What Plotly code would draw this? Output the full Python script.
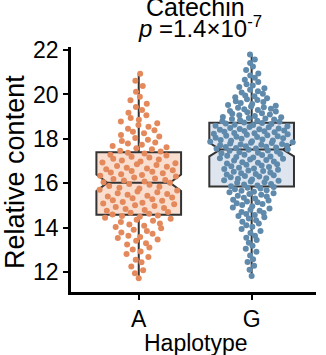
import numpy as np
import plotly.graph_objects as go

categories = ["A", "G"]
y_ticks = [12, 14, 16, 18, 20, 22]

values_A = [
    11.72, 11.95,
    12.08, 12.25, 12.44,
    12.55, 12.68, 12.81, 12.93,
    13.02, 13.11, 13.24, 13.30, 13.41, 13.47,
    13.53, 13.58, 13.64, 13.72, 13.78, 13.85, 13.91, 13.97,
    14.03, 14.08, 14.14, 14.19, 14.25, 14.31, 14.36, 14.40, 14.45, 14.49,
    14.52, 14.55, 14.59, 14.63, 14.67, 14.71, 14.76, 14.80, 14.84, 14.88, 14.93, 14.97,
    15.01, 15.05, 15.09, 15.12, 15.16, 15.21, 15.24, 15.28, 15.32, 15.36, 15.40, 15.44, 15.48,
    15.52, 15.55, 15.60, 15.63, 15.67, 15.71, 15.76, 15.80, 15.84, 15.88, 15.93, 15.97,
    16.02, 16.05, 16.08, 16.12, 16.15, 16.19, 16.22, 16.26, 16.30, 16.34, 16.37, 16.41, 16.45, 16.48,
    16.52, 16.55, 16.59, 16.63, 16.66, 16.70, 16.74, 16.78, 16.82, 16.86, 16.90, 16.94, 16.98,
    17.03, 17.07, 17.11, 17.16, 17.20, 17.25, 17.29, 17.34, 17.38, 17.43, 17.47,
    17.53, 17.58, 17.62, 17.68, 17.73, 17.79, 17.84, 17.90, 17.96,
    18.04, 18.11, 18.18, 18.25, 18.32, 18.39, 18.46,
    18.55, 18.62, 18.70, 18.78, 18.86, 18.94,
    19.06, 19.18, 19.30, 19.44,
    19.58, 19.74, 19.90,
    20.12, 20.38,
    20.62, 20.93,
]

values_G = [
    11.82,
    12.10, 12.28, 12.45,
    12.58, 12.74, 12.91,
    13.05, 13.18, 13.32, 13.44,
    13.55, 13.64, 13.76, 13.85, 13.94,
    14.04, 14.11, 14.19, 14.26, 14.33, 14.41, 14.47,
    14.53, 14.57, 14.62, 14.66, 14.71, 14.76, 14.81, 14.86, 14.91, 14.96,
    15.02, 15.06, 15.10, 15.14, 15.18, 15.22, 15.26, 15.31, 15.35, 15.40, 15.44, 15.48,
    15.52, 15.55, 15.59, 15.62, 15.66, 15.69, 15.73, 15.76, 15.80, 15.83, 15.87, 15.90, 15.94, 15.97,
    16.02, 16.05, 16.08, 16.11, 16.14, 16.17, 16.20, 16.23, 16.27, 16.30, 16.33, 16.36, 16.39, 16.42, 16.45, 16.48,
    16.52, 16.55, 16.58, 16.61, 16.64, 16.67, 16.70, 16.73, 16.77, 16.80, 16.83, 16.86, 16.89, 16.92, 16.95, 16.98,
    17.02, 17.05, 17.07, 17.10, 17.13, 17.16, 17.18, 17.21, 17.24, 17.27, 17.29, 17.32, 17.35, 17.38, 17.40, 17.43, 17.46, 17.48,
    17.51, 17.53, 17.55, 17.57, 17.59, 17.61, 17.63, 17.65, 17.67, 17.69, 17.71, 17.73, 17.75, 17.77, 17.79, 17.81, 17.83, 17.85, 17.87, 17.89, 17.91, 17.93, 17.95, 17.97,
    18.01, 18.03, 18.05, 18.08, 18.10, 18.12, 18.14, 18.16, 18.19, 18.21, 18.23, 18.25, 18.27, 18.30, 18.32, 18.34, 18.36, 18.38, 18.41, 18.43, 18.45, 18.47, 18.49,
    18.52, 18.54, 18.57, 18.59, 18.62, 18.64, 18.67, 18.69, 18.72, 18.74, 18.77, 18.79, 18.82, 18.84, 18.87, 18.89, 18.92, 18.94, 18.97, 18.99,
    19.03, 19.06, 19.10, 19.13, 19.16, 19.20, 19.23, 19.26, 19.30, 19.33, 19.36, 19.40, 19.43, 19.46, 19.49,
    19.53, 19.57, 19.62, 19.66, 19.70, 19.75, 19.79, 19.83, 19.88, 19.92, 19.96,
    20.03, 20.09, 20.15, 20.21, 20.28, 20.34, 20.40, 20.46,
    20.56, 20.66, 20.76, 20.86, 20.95,
    21.10, 21.26, 21.42,
    21.58, 21.80,
]

title_text = "Catechin"
p_text = "<i>p</i> =1.4×10<sup>-7</sup>"
y_title = "Relative content"
x_title = "Haplotype"

FONT = "Liberation Sans, Arial, sans-serif"


def vdc(k, base=2):
    """Van der Corput low-discrepancy value for index k (k >= 1)."""
    v, denom = 0.0, 1.0
    while k:
        denom *= base
        k, r = divmod(k, base)
        v += r / denom
    return v


def quasirandom_offsets(vals, half_width, adjust=0.5):
    """Quasirandom (ggbeeswarm-like) horizontal offsets scaled by KDE density."""
    y = np.asarray(vals, dtype=float)
    n = len(y)
    sd = y.std(ddof=1)
    iqr = np.subtract(*np.percentile(y, [75, 25]))
    bw = 0.9 * min(sd, iqr / 1.34) * n ** (-0.2) * adjust
    dens = np.exp(-0.5 * ((y[:, None] - y[None, :]) / bw) ** 2).sum(axis=1)
    dens = dens / dens.max()
    order = np.argsort(y, kind="stable")
    offs = np.empty(n)
    for rank, idx in enumerate(order):
        offs[idx] = (vdc(rank + 1) - 0.5) * 2 * half_width * dens[idx]
    return offs


fig = go.Figure()
groups = [
    (0, values_A, "#E4895B", "rgba(248,214,196,0.8)"),
    (1, values_G, "#5F8AAC", "rgba(216,225,236,0.85)"),
]
for pos, vals, pt_col, fill_col in groups:
    fig.add_trace(go.Box(
        x=[pos] * len(vals), y=vals,
        boxpoints=False,
        notched=True, notchwidth=0.13,
        width=0.75,
        fillcolor=fill_col,
        line=dict(color="#333333", width=2),
        whiskerwidth=0,
        showlegend=False, hoverinfo="skip",
    ))
for pos, vals, pt_col, fill_col in groups:
    offs = quasirandom_offsets(vals, 0.37)
    fig.add_trace(go.Scatter(
        x=pos + offs, y=vals, mode="markers",
        marker=dict(color=pt_col, size=6, line=dict(width=0)),
        showlegend=False, hoverinfo="skip",
    ))

fig.update_layout(
    width=326, height=355,
    margin=dict(l=71, r=10, t=47, b=63),
    paper_bgcolor="white", plot_bgcolor="white",
    font=dict(family=FONT, size=23, color="black"),
    boxmode="overlay",
    showlegend=False,
)
fig.update_xaxes(
    range=[-0.6, 1.57],
    tickvals=[0, 1], ticktext=categories,
    showline=True, linewidth=2.5, linecolor="black",
    ticks="outside", ticklen=5, tickwidth=1.5, tickcolor="black",
    showgrid=False, zeroline=False,
    tickfont=dict(family=FONT, size=23, color="black"),
)
fig.update_yaxes(
    range=[11.1, 22.14],
    tickvals=y_ticks, ticktext=[str(t) for t in y_ticks],
    showline=True, linewidth=2.5, linecolor="black",
    ticks="outside", ticklen=5, tickwidth=1.5, tickcolor="black",
    showgrid=False, zeroline=False,
    tickfont=dict(family=FONT, size=23, color="black"),
)

fig.add_annotation(text=title_text, xref="paper", yref="paper", x=0.508, y=1,
                   xanchor="center", yanchor="bottom", yshift=24, showarrow=False,
                   font=dict(family=FONT, size=25, color="black"))
fig.add_annotation(text=p_text, xref="paper", yref="paper", x=0.525, y=1,
                   xanchor="center", yanchor="bottom", yshift=3, showarrow=False,
                   font=dict(family=FONT, size=24, color="black"))
fig.add_annotation(text=y_title, xref="paper", yref="paper", x=0, y=0.49,
                   xanchor="center", yanchor="middle", xshift=-56, textangle=-90,
                   showarrow=False, font=dict(family=FONT, size=27, color="black"))
fig.add_annotation(text=x_title, xref="paper", yref="paper", x=0.51, y=0,
                   xanchor="center", yanchor="top", yshift=-36, showarrow=False,
                   font=dict(family=FONT, size=23, color="black"))

fig.write_html("out.html")
